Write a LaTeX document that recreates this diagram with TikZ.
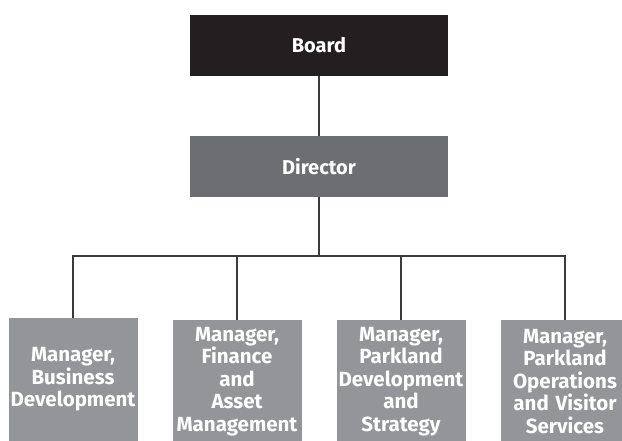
\documentclass[tikz,border=0pt]{standalone}
\usepackage{fontspec}
\setmainfont{Fira Sans}
\definecolor{boardc}{HTML}{231F20}
\definecolor{dirc}{HTML}{6D6E71}
\definecolor{mgrc}{HTML}{939598}
\definecolor{linec}{HTML}{3A3A3A}
\begin{document}
\begin{tikzpicture}[x=1pt,y=-1pt,
  box/.style={inner sep=0pt, text=white, align=center},
  topbox/.style={box, font=\fontsize{20}{22.5}\selectfont\bfseries, minimum width=258pt, minimum height=61pt},
  mgrbox/.style={box, font=\fontsize{20.5}{22.5}\selectfont\bfseries, fill=mgrc, minimum width=129pt, minimum height=123pt, text width=129pt},
  conn/.style={draw=linec, line width=1.1pt}]
\useasboundingbox (0,0) rectangle (622,441);
\node[topbox, fill=boardc] (board) at (319,45.5) {Board};
\node[topbox, fill=dirc] (dir) at (319,166.5) {Director};
\node[mgrbox] (m1) at (73,379.5) {Manager,\\Business\\Development};
\node[mgrbox] (m2) at (237,381.5) {Manager,\\Finance\\and\\Asset\\Management};
\node[mgrbox] (m3) at (401,381.5) {Manager,\\Parkland\\Development\\and\\Strategy};
\node[mgrbox] (m4) at (565,381.5) {Manager,\\Parkland\\Operations\\and Visitor\\Services};
\coordinate (bus) at (319,256);
\draw[conn] (board.south) -- (dir.north);
\draw[conn] (dir.south) -- (bus);
\draw[conn] (bus) -| (m1.north);
\draw[conn] (bus) -| (m2.north);
\draw[conn] (bus) -| (m3.north);
\draw[conn] (bus) -| (m4.north);
\end{tikzpicture}
\end{document}
